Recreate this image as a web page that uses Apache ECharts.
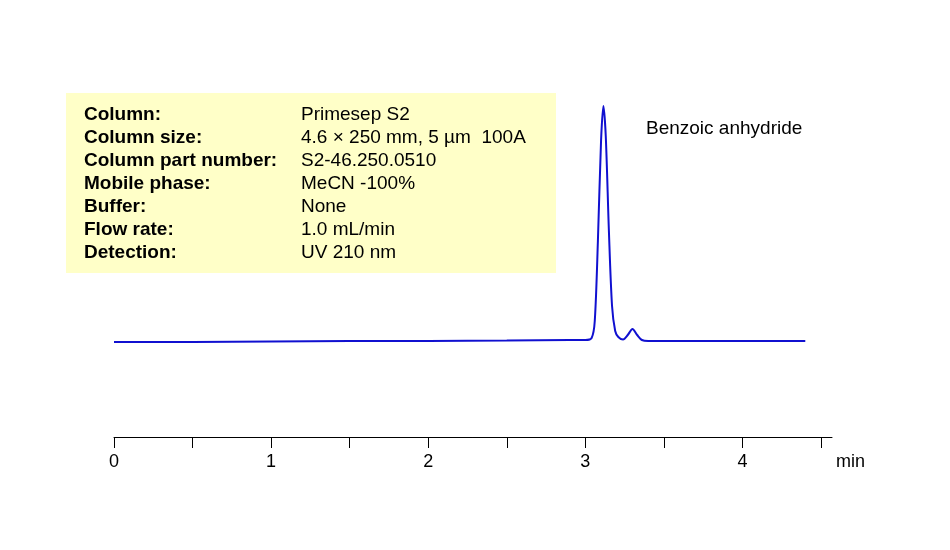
<!DOCTYPE html>
<html><head><meta charset="utf-8">
<script src="https://cdn.jsdelivr.net/npm/echarts@6/dist/echarts.min.js"></script>
<style>html,body{margin:0;background:#fff}#c{width:950px;height:550px}</style>
</head><body><div id="c"></div>
<script>
// 色谱数据（时间 min, 信号）
var times = [0, 0.5, 1, 1.5, 2, 2.5, 2.9, 3.0, 3.04, 3.06, 3.08, 3.1, 3.115, 3.13, 3.15, 3.17, 3.19, 3.21, 3.24, 3.27, 3.30, 3.33, 3.36, 3.4, 3.6, 4.0, 4.4];
var signal = [-1, -1, -0.5, 0, 0, 0.5, 1, 1, 3, 20, 100, 200, 235, 205, 110, 35, 10, 4, 1.5, 6, 12, 6, 1, 0, 0, 0, 0];
var infoLabels = ['Column:', 'Column size:', 'Column part number:', 'Mobile phase:', 'Buffer:', 'Flow rate:', 'Detection:'];
var infoValues = ['Primesep S2', '4.6 \u00d7 250 mm, 5 \u00b5m  100A', 'S2-46.250.0510', 'MeCN -100%', 'None', '1.0 mL/min', 'UV 210 nm'];

var chart = echarts.init(document.getElementById('c'));
var pts = times.map(function (t, i) { return [t, signal[i]]; });
var font = 'Liberation Sans, Arial, sans-serif';
var g = [{ type: 'rect', shape: { x: 66, y: 93, width: 490, height: 180 }, style: { fill: '#ffffc8' } }];
infoLabels.forEach(function (s, i) {
  g.push({ type: 'text', x: 84, y: 115 + i * 23, style: { text: s, font: 'bold 19px ' + font, fill: '#000', textVerticalAlign: 'middle' } });
  g.push({ type: 'text', x: 301, y: 115 + i * 23, style: { text: infoValues[i], font: '19px ' + font, fill: '#000', textVerticalAlign: 'middle' } });
});
g.push({ type: 'text', x: 646, y: 129, style: { text: 'Benzoic anhydride', font: '19px ' + font, fill: '#000', textVerticalAlign: 'middle' } });

chart.setOption({
  animation: false,
  grid: { left: 114, right: 118, top: 106, bottom: 113 },
  graphic: g,
  xAxis: {
    type: 'value', min: 0, max: 4.57, interval: 0.5,
    name: 'min', nameGap: 4, nameTextStyle: { fontSize: 18, fontFamily: font, color: '#000', verticalAlign: 'top', align: 'left', padding: [16, 0, 0, 0] },
    axisLine: { onZero: false, lineStyle: { color: '#000', width: 1 } },
    axisTick: { inside: false, length: 11, lineStyle: { color: '#000' } },
    splitLine: { show: false },
    axisLabel: { fontSize: 18, fontFamily: font, color: '#000', margin: 16, showMaxLabel: false,
      formatter: function (v) { return Math.abs(v - Math.round(v)) < 1e-6 ? String(Math.round(v)) : ''; } }
  },
  yAxis: { type: 'value', min: -96, max: 235, show: false, splitLine: { show: false } },
  series: [{ type: 'line', data: pts, smooth: 0.3, symbol: 'none', lineStyle: { color: '#1010d0', width: 2 } }]
});
</script></body></html>
